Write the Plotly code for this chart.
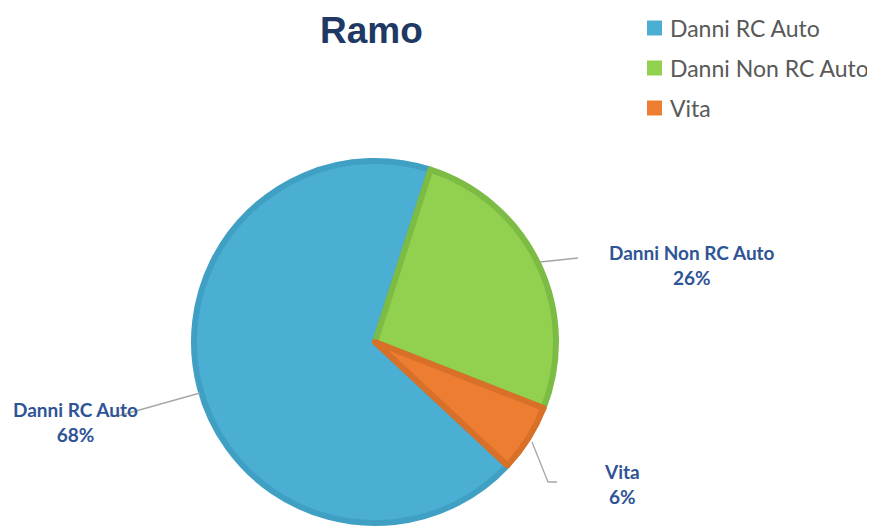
import plotly.graph_objects as go

# ---- data ----
labels = ["Danni RC Auto", "Danni Non RC Auto", "Vita"]
values = [68, 26, 6]
fill_colors = ["#4BAFD3", "#92D050", "#ED7D31"]
line_colors = ["#3FA0C4", "#7CBB44", "#D9702A"]
title_text = "Ramo"

W, H = 875, 526
OFF = 8  # page body margin offset


def px(x):
    return (x - OFF) / W


def py(y):
    return 1 - (y - OFF) / H


fig = go.Figure()

cx, cy, r = 375, 342, 181
fig.add_trace(go.Pie(
    labels=labels,
    values=values,
    sort=False,
    direction="clockwise",
    rotation=133,
    textinfo="none",
    hoverinfo="label+percent",
    marker=dict(colors=fill_colors, line=dict(color=line_colors, width=6)),
    domain=dict(x=[px(cx - r), px(cx + r)], y=[py(cy + r), py(cy - r)]),
    showlegend=False,
))

total = sum(values)

# data labels (outside) with leader lines
label_pos = {
    "Danni RC Auto": (75, 422),
    "Danni Non RC Auto": (692, 265),
    "Vita": (622, 484),
}
leaders = {
    "Danni RC Auto": [(200, 393), (118, 416), (110, 416)],
    "Danni Non RC Auto": [(540, 262), (578, 258)],
    "Vita": [(532, 442), (548, 482), (557, 482)],
}

annotations = []
shapes = []
for lab, val in zip(labels, values):
    x, y = label_pos[lab]
    pct = round(100 * val / total)
    annotations.append(dict(
        x=px(x), y=py(y), xref="paper", yref="paper",
        text=f"<b>{lab}</b><br><b>{pct}%</b>",
        showarrow=False, xanchor="center", yanchor="middle",
        font=dict(family="Lato", size=19, color="#2F5496"),
        align="center",
    ))
    pts = leaders[lab]
    path = "M " + " L ".join(f"{px(a)},{py(b)}" for a, b in pts)
    shapes.append(dict(type="path", path=path, xref="paper", yref="paper",
                       line=dict(color="#A6A6A6", width=1.3)))

# manual legend
leg_x, leg_y0, leg_dy, sq = 647, 28, 40, 15
for i, (lab, col) in enumerate(zip(labels, fill_colors)):
    yc = leg_y0 + i * leg_dy
    shapes.append(dict(type="rect", xref="paper", yref="paper",
                       x0=px(leg_x), x1=px(leg_x + sq),
                       y0=py(yc + sq / 2), y1=py(yc - sq / 2),
                       fillcolor=col, line=dict(width=0)))
    annotations.append(dict(
        x=px(leg_x + sq + 6), y=py(yc), xref="paper", yref="paper",
        text=lab, showarrow=False, xanchor="left", yanchor="middle",
        font=dict(family="Lato", size=23, color="#595959"),
    ))

# title
annotations.append(dict(
    x=px(371), y=py(31), xref="paper", yref="paper",
    text=f"<b>{title_text}</b>", showarrow=False,
    xanchor="center", yanchor="middle",
    font=dict(family="Liberation Sans", size=37, color="#203864"),
))

fig.update_layout(
    width=W, height=H,
    margin=dict(l=0, r=0, t=0, b=0),
    paper_bgcolor="white", plot_bgcolor="white",
    annotations=annotations, shapes=shapes,
    showlegend=False,
)

fig.write_html("out.html")
